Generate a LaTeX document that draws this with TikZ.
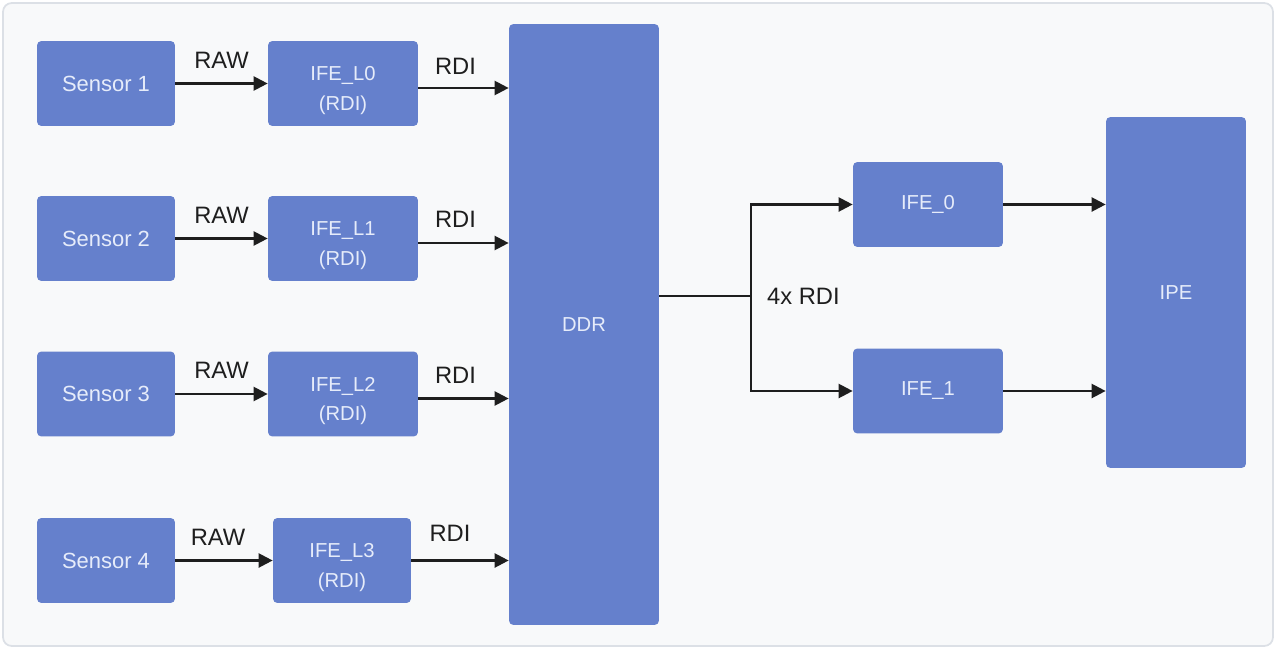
\documentclass[tikz,border=0pt]{standalone}
\usepackage{fontspec}
\setmainfont{Liberation Sans}
\usepackage{tikz}
\usetikzlibrary{positioning,arrows.meta,calc}

\definecolor{boxblue}{HTML}{6580CC}
\definecolor{boxtext}{HTML}{E6ECFA}
\definecolor{panel}{HTML}{F8F9FA}
\definecolor{panelline}{HTML}{DCE0E6}
\definecolor{linegray}{HTML}{1E1E1E}

\newcommand{\lowstrut}{\rule{0pt}{16pt}}

\begin{document}
\begin{tikzpicture}[x=0.02cm, y=-0.02cm,
  block/.style={fill=boxblue, rounded corners=2.5pt, inner sep=0pt, text=boxtext, font=\fontsize{11.5}{17}\selectfont, align=center},
  sensorbox/.style={block, minimum width=2.76cm, minimum height=1.7cm, font=\fontsize{12.5}{15}\selectfont},
  ifebox/.style={block, minimum width=3cm, minimum height=1.7cm},
  arr/.style={-{Triangle[length=8pt, width=8pt]}, line width=1.3pt, draw=linegray},
  lbl/.style={font=\fontsize{13.5}{15}\selectfont, text=linegray, inner sep=0pt}]

% Frame
\useasboundingbox (0,0) rectangle (1276,649);
\draw[fill=panel, draw=panelline, line width=1pt, rounded corners=5pt] (3,3) rectangle (1273,646);

% Sensors
\node[sensorbox] (s1) at (106,83.5) {Sensor 1};
\node[sensorbox] (s2) at (106,238.5) {Sensor 2};
\node[sensorbox] (s3) at (106,394) {Sensor 3};
\node[sensorbox] (s4) at (106,560.5) {Sensor 4};

% Lite IFEs
\node[ifebox] (l0) at (343,83.5) {\lowstrut IFE\_L0\\(RDI)};
\node[ifebox] (l1) at (343,238.5) {\lowstrut IFE\_L1\\(RDI)};
\node[ifebox] (l2) at (343,394) {\lowstrut IFE\_L2\\(RDI)};
\node[ifebox, minimum width=2.76cm] (l3) at (342,560.5) {\lowstrut IFE\_L3\\(RDI)};

% DDR, IFEs, IPE
\node[block, minimum width=3cm, minimum height=12.02cm] (ddr) at (584,324.5) {DDR};
\node[ifebox] (i0) at (928,204.5) {IFE\_0};
\node[ifebox] (i1) at (928,391) {IFE\_1};
\node[block, minimum width=2.8cm, minimum height=7.02cm] (ipe) at (1176,292.5) {IPE};

% Arrows
\draw[arr] (s1) -- (l0) node[lbl, midway, above=8pt] {RAW};
\draw[arr] (s2) -- (l1) node[lbl, midway, above=8pt] {RAW};
\draw[arr] (s3) -- (l2) node[lbl, midway, above=8pt] {RAW};
\draw[arr] (s4) -- (l3) node[lbl, midway, above=8pt, xshift=-0.12cm] {RAW};

\draw[arr] ([yshift=-0.09cm]l0.east) -- ([yshift=-0.09cm]l0.east -| ddr.west) node[lbl, midway, above=7pt, xshift=-0.16cm] {RDI};
\draw[arr] ([yshift=-0.09cm]l1.east) -- ([yshift=-0.09cm]l1.east -| ddr.west) node[lbl, midway, above=8pt, xshift=-0.16cm] {RDI};
\draw[arr] ([yshift=-0.09cm]l2.east) -- ([yshift=-0.09cm]l2.east -| ddr.west) node[lbl, midway, above=8pt, xshift=-0.16cm] {RDI};
\draw[arr] (l3.east) -- (l3.east -| ddr.west) node[lbl, midway, above=10pt, xshift=-0.2cm] {RDI};

\coordinate (split) at (751,296);
\draw[line width=1.3pt, draw=linegray] (split -| ddr.east) -- (split);
\draw[arr] (split) |- (i0.west);
\draw[arr] (split) |- (i1.west);
\node[lbl, right=9pt of split] (fourx) {4x RDI};

\draw[arr] (i0.east) -- (i0.east -| ipe.west);
\draw[arr] (i1.east) -- (i1.east -| ipe.west);

\end{tikzpicture}
\end{document}
